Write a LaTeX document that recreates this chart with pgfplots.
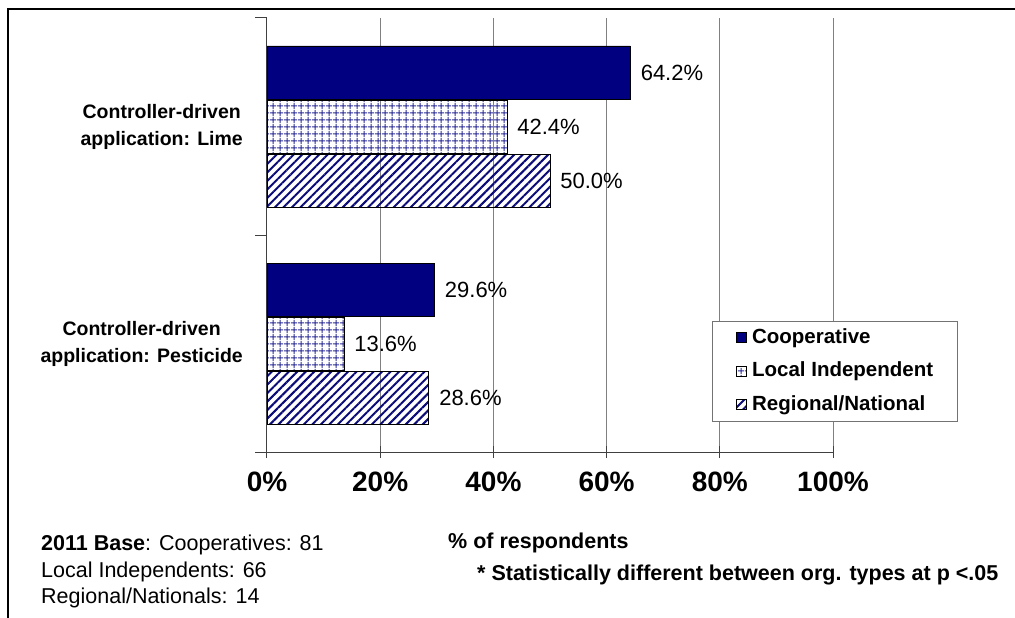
\documentclass[border=0pt]{standalone}
\usepackage{fontspec}
\setmainfont{Liberation Sans}
\usepackage{pgfplots}
\usepackage{pgfplotstable}
\pgfplotsset{compat=1.18}
\usetikzlibrary{patterns.meta}
\definecolor{coop}{RGB}{0,0,128}
\definecolor{gridc}{RGB}{45,45,150}
\definecolor{diagc}{RGB}{10,10,120}

\pgfplotstableread{
y coop local reg
0 29.6 13.6 28.6
1 64.2 42.4 50.0
}\data

\begin{document}
\begin{tikzpicture}
\path[use as bounding box] (0,0) rectangle (1015pt,-618pt);
\draw[line width=2pt] (8pt,-618pt) -- (8pt,-9pt) -- (1015pt,-9pt);
\begin{axis}[
  at={(267pt,-452pt)}, anchor=south west,
  scale only axis, width=566pt, height=434pt,
  xbar, bar width=53pt,
  xmin=0, xmax=100, ymin=-0.5, ymax=1.5,
  enlargelimits=false, clip=false,
  axis x line*=bottom, axis y line*=left,
  axis line style={black!75, line width=1pt},
  /pgf/number format/assume math mode=true,
  xtick={0,20,40,60,80,100},
  xticklabels={0\%,20\%,40\%,60\%,80\%,100\%},
  xtick align=center, ytick align=outside, major tick length=12pt,
  tick style={black!75, line width=1pt},
  xticklabel style={font=\bfseries\fontsize{28}{30}\selectfont, inner sep=0pt, anchor=north, yshift=-14pt},
  xmajorgrids=true,
  major grid style={black!50, line width=1pt},
  ytick={-0.5,0.5,1.5},
  yticklabels={,,},
  extra y ticks={0,1},
  extra y tick labels={{Controller-driven\\application: Pesticide},{Controller-driven\\application: Lime}},
  extra y tick style={major tick length=0pt, tick style={draw=none}},
  yticklabel style={font=\bfseries\fontsize{19.5}{27}\selectfont, align=center, inner sep=0pt, anchor=east, xshift=-24pt},
  point meta=x,
  nodes near coords={\pgfmathprintnumber[fixed,fixed zerofill,precision=1,assume math mode=true]{\pgfplotspointmeta}\%},
  nodes near coords style={font=\fontsize{22}{24}\selectfont, anchor=west, inner sep=0pt, xshift=10pt, black},
  legend style={at={(0.7862,0.3018)}, anchor=north west, draw=black!55, line width=1pt, fill=white,
    font=\bfseries\fontsize{20.5}{24}\selectfont, inner xsep=24pt, inner ysep=6.5pt,
    row sep=14pt, column sep=5pt,
    nodes={inner sep=0pt, text height=15pt, text depth=4.5pt}},
  legend cell align=left,
  sqleg/.style={legend image code/.code={\draw[##1, line width=0.6pt, draw=black] (0pt,-5pt) rectangle (10pt,5pt);}},
]
\addplot[fill=coop, draw=black, line width=0.8pt, bar shift=54pt, sqleg] table[x=coop,y=y] {\data};
\addplot[pattern={Hatch[distance=6.5pt, line width=1.1pt]}, pattern color=gridc, draw=black, line width=0.8pt, bar shift=0pt, sqleg] table[x=local,y=y] {\data};
\addplot[pattern={Lines[angle=45, distance=6pt, line width=2pt]}, pattern color=diagc, draw=black, line width=0.8pt, bar shift=-54pt, sqleg] table[x=reg,y=y] {\data};
\legend{Cooperative, Local Independent, Regional/National}
\end{axis}
\node[anchor=base west, font=\bfseries\fontsize{21.5}{24}\selectfont, inner sep=0pt] at (448pt,-548pt) {\% of respondents};
\node[anchor=base west, font=\bfseries\fontsize{21.5}{24}\selectfont, inner sep=0pt] at (477pt,-580pt) {* Statistically different between org. types at p <.05};
\node[anchor=base west, font=\fontsize{21.5}{24}\selectfont, inner sep=0pt] at (41pt,-550.5pt) {\textbf{2011 Base}: Cooperatives: 81};
\node[anchor=base west, font=\fontsize{21.5}{24}\selectfont, inner sep=0pt] at (41pt,-577pt) {Local Independents: 66};
\node[anchor=base west, font=\fontsize{21.5}{24}\selectfont, inner sep=0pt] at (41pt,-603.5pt) {Regional/Nationals: 14};
\end{tikzpicture}
\end{document}
